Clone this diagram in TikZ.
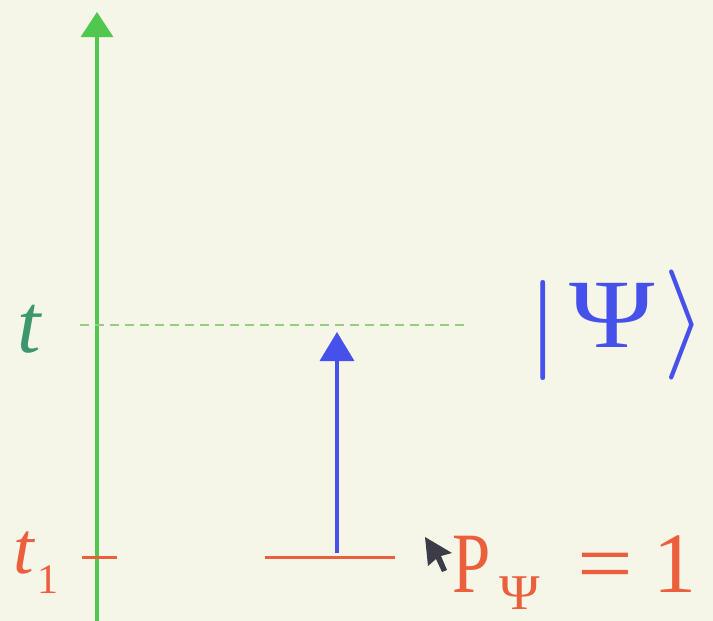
\documentclass[tikz,border=0pt]{standalone}
\usepackage{fontspec}
\setmainfont{Liberation Serif}
\usetikzlibrary{arrows.meta}
\definecolor{bgc}{RGB}{245,245,232}
\definecolor{axisgreen}{RGB}{80,200,80}
\definecolor{dashgreen}{RGB}{150,205,130}
\definecolor{tealt}{RGB}{60,150,110}
\definecolor{redc}{RGB}{235,95,60}
\definecolor{bluec}{RGB}{70,80,235}
\definecolor{cursorc}{RGB}{60,60,72}
\tikzset{
  axisline/.style={draw=axisgreen, line width=3.2pt, -{Triangle[width=32pt,length=25pt]}},
  levelline/.style={draw=dashgreen, line width=1.5pt, dash pattern=on 9pt off 6pt},
  redline/.style={draw=redc, line width=3pt},
  bluearrow/.style={draw=bluec, line width=3.5pt, -{Triangle[width=34pt,length=29pt]}},
  lbl/.style={inner sep=0pt, outer sep=0pt}
}
\begin{document}
\begin{tikzpicture}[x=1pt,y=-1pt]
\useasboundingbox (0,0) rectangle (713,621);
\fill[bgc] (0,0) rectangle (713,621);
% coordinates
\coordinate (axb) at (97,625);
\coordinate (axt) at (97,12);
\coordinate (dl) at (80,325);
\coordinate (dr) at (467,325);
\coordinate (tkl) at (82,557);
\coordinate (tkr) at (117,557);
\coordinate (rl) at (265,557);
\coordinate (rr) at (395,557);
\coordinate (bb) at (337,553);
\coordinate (bt) at (337,332);
% axis
\draw[axisline] (axb) -- (axt);
\draw[levelline] (dl) -- (dr);
\draw[redline] (tkl) -- (tkr);
\draw[redline] (rl) -- (rr);
\draw[bluearrow] (bb) -- (bt);
% labels
\node[lbl, anchor=base west, text=tealt] (tlab) at (17,352)
  {\fontsize{84}{84}\selectfont\itshape t};
\node[lbl, anchor=base west, text=redc] (t1lab) at (13,573)
  {\fontsize{74}{74}\selectfont\makebox[24pt][l]{\itshape t}\raisebox{-20pt}{\fontsize{42}{42}\selectfont 1}};
\node[lbl, anchor=base west, text=redc] (plab) at (452,592)
  {\fontsize{86}{86}\selectfont
   \makebox[47pt][l]{\scalebox{0.8}[1]{P}}%
   \makebox[78pt][l]{\raisebox{-17pt}{\fontsize{50}{50}\selectfont\scalebox{1.1}[1]{Ψ}}}%
   \makebox[76pt][l]{\scalebox{1.15}[1]{=}}%
   1};
\node[lbl, anchor=base west, text=bluec] (ket) at (526,347)
  {\makebox[43pt][l]{\raisebox{-8pt}{\scalebox{12}[10]{$|$}}}%
   \makebox[94pt][l]{\fontsize{98}{98}\selectfont\scalebox{1.18}[1]{Ψ}}%
   \raisebox{-5.5pt}{\scalebox{11}{$\rangle$}}};
% mouse cursor
\fill[cursorc] (425,537) -- (452,553) -- (441,556) -- (447,570) -- (442,572) -- (436,559) -- (428,566) -- cycle;
\end{tikzpicture}
\end{document}
